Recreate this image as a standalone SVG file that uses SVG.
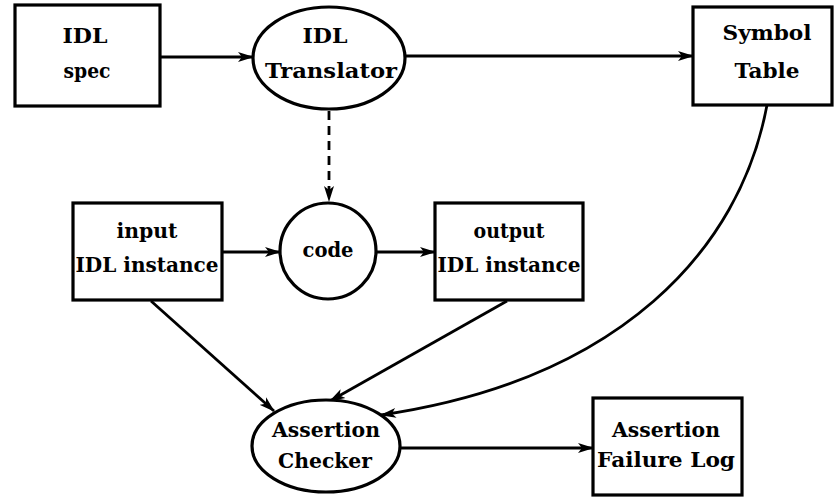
<svg xmlns="http://www.w3.org/2000/svg" width="835" height="497" viewBox="0 0 835 497">
<defs>
<marker id="ah" markerWidth="16" markerHeight="11" refX="15" refY="5.5" orient="auto" markerUnits="userSpaceOnUse">
<path d="M0,0.5 L16,5.5 L0,10.5 L4,5.5 z" fill="#000"/>
</marker>
<style>
.shape{fill:#fff;stroke:#000;stroke-width:3.2}
.conn{fill:none;stroke:#000;stroke-width:2.8;marker-end:url(#ah)}
.dash{stroke-dasharray:9 6}
text{font-family:"DejaVu Serif","Liberation Serif",serif;font-size:20px;font-weight:bold;fill:#000;text-anchor:middle}
</style>
</defs>
<rect width="835" height="497" fill="#fff"/>
<g id="connectors">
<line class="conn" x1="160" y1="57" x2="253" y2="57"/>
<line class="conn" x1="405" y1="56" x2="693" y2="56"/>
<line class="conn dash" x1="329" y1="111" x2="329" y2="201"/>
<line class="conn" x1="222" y1="252" x2="280" y2="252"/>
<line class="conn" x1="376" y1="252" x2="435" y2="252"/>
<line class="conn" x1="151" y1="301" x2="274" y2="411"/>
<line class="conn" x1="507" y1="301" x2="330" y2="401"/>
<path class="conn" d="M767,105 C740,250 620,380 381,415"/>
<line class="conn" x1="400" y1="448" x2="593" y2="448"/>
</g>
<g id="idl-spec">
<rect class="shape" x="15" y="5" width="145" height="101"/>
<text x="85" y="43" textLength="45" lengthAdjust="spacingAndGlyphs">IDL</text>
<text x="87" y="78" textLength="47" lengthAdjust="spacingAndGlyphs">spec</text>
</g>
<g id="idl-translator">
<ellipse class="shape" cx="329" cy="58" rx="76" ry="51"/>
<text x="325" y="43" textLength="45" lengthAdjust="spacingAndGlyphs">IDL</text>
<text x="331" y="78" textLength="132" lengthAdjust="spacingAndGlyphs">Translator</text>
</g>
<g id="symbol-table">
<rect class="shape" x="693" y="7" width="139" height="98"/>
<text x="767" y="40" textLength="89" lengthAdjust="spacingAndGlyphs">Symbol</text>
<text x="767" y="78" textLength="65" lengthAdjust="spacingAndGlyphs">Table</text>
</g>
<g id="input-instance">
<rect class="shape" x="73" y="203" width="149" height="97"/>
<text x="147" y="238" textLength="61" lengthAdjust="spacingAndGlyphs">input</text>
<text x="147" y="272" textLength="143" lengthAdjust="spacingAndGlyphs">IDL instance</text>
</g>
<g id="code">
<circle class="shape" cx="328" cy="251" r="48"/>
<text x="328" y="257" textLength="51" lengthAdjust="spacingAndGlyphs">code</text>
</g>
<g id="output-instance">
<rect class="shape" x="435" y="203" width="148" height="97"/>
<text x="509" y="238" textLength="71" lengthAdjust="spacingAndGlyphs">output</text>
<text x="509" y="272" textLength="143" lengthAdjust="spacingAndGlyphs">IDL instance</text>
</g>
<g id="assertion-checker">
<ellipse class="shape" cx="326" cy="446" rx="74" ry="46"/>
<text x="326" y="437" textLength="108" lengthAdjust="spacingAndGlyphs">Assertion</text>
<text x="325" y="468" textLength="94" lengthAdjust="spacingAndGlyphs">Checker</text>
</g>
<g id="failure-log">
<rect class="shape" x="593" y="398" width="149" height="97"/>
<text x="666" y="437" textLength="108" lengthAdjust="spacingAndGlyphs">Assertion</text>
<text x="666" y="467" textLength="138" lengthAdjust="spacingAndGlyphs">Failure Log</text>
</g>
</svg>
